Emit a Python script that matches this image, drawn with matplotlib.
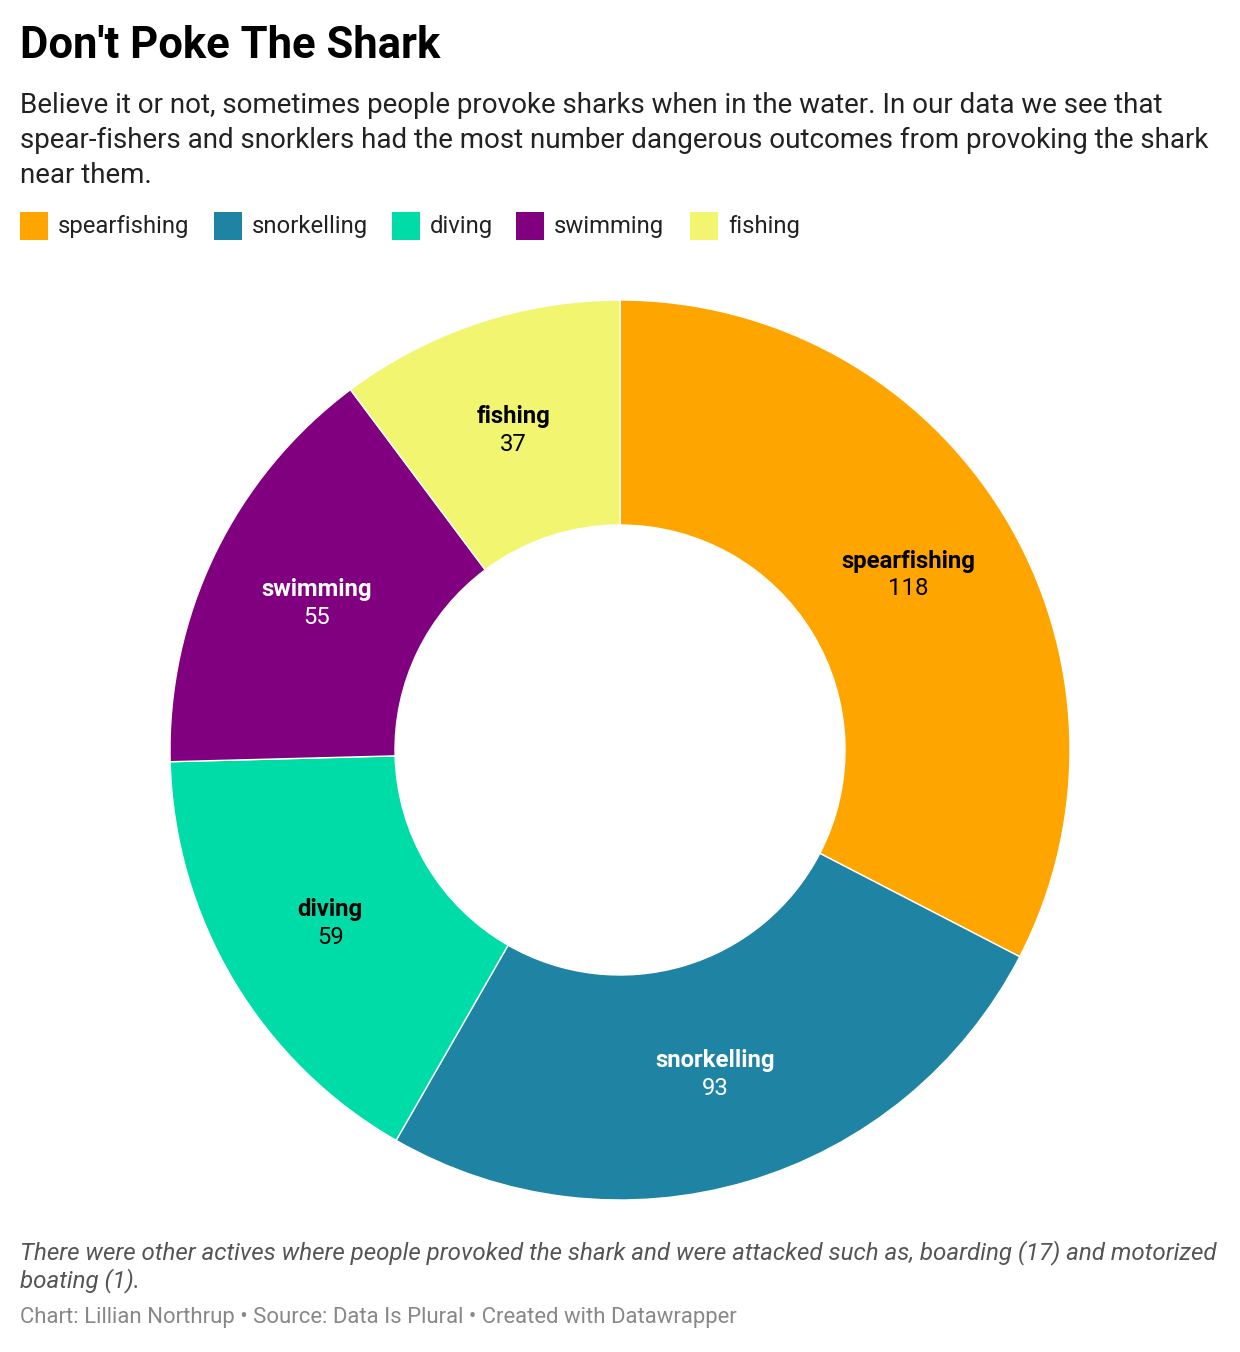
import matplotlib.pyplot as plt
from matplotlib.patches import Rectangle
import numpy as np

plt.rcParams['font.family'] = ['Roboto', 'DejaVu Sans']

categories = ['spearfishing', 'snorkelling', 'diving', 'swimming', 'fishing']
values = [118, 93, 59, 55, 37]
colors = ['#ffa500', '#1f83a3', '#00dca8', '#800080', '#f2f570']
label_colors = ['black', 'white', 'black', 'white', 'black']

W, H = 1240, 1352
fig = plt.figure(figsize=(W / 100, H / 100), dpi=100)


def fy(y):
    return 1 - y / H


def fx(x):
    return x / W


fig.text(fx(20), fy(46), "Don't Poke The Shark", fontsize=31.4, fontweight='bold',
         va='center', ha='left', color='black')
subtitle = ("Believe it or not, sometimes people provoke sharks when in the water. In our data we see that\n"
            "spear-fishers and snorklers had the most number dangerous outcomes from provoking the shark\n"
            "near them.")
fig.text(fx(20), fy(92), subtitle, fontsize=20, va='top', ha='left', color='#222222',
         linespacing=1.38)

# legend
legend_x = [20, 214, 392, 516, 690]
for x, cat, col in zip(legend_x, categories, colors):
    fig.patches.append(Rectangle((fx(x), fy(240)), 28 / W, 28 / H, transform=fig.transFigure,
                                 facecolor=col, edgecolor='none'))
    fig.text(fx(x + 38), fy(226), cat, fontsize=17.2, va='center', ha='left', color='#222222')

# donut
R = 450
cx, cy = 620, 750
ax = fig.add_axes([fx(cx - R), fy(cy + R), 2 * R / W, 2 * R / H])
wedges, _ = ax.pie(values, colors=colors, startangle=90, counterclock=False, radius=1,
                   wedgeprops=dict(width=0.5, edgecolor='white', linewidth=1))
ax.set_xlim(-1, 1)
ax.set_ylim(-1, 1)
ax.set_aspect('equal')
ax.axis('off')

total = sum(values)
cum = 0
for cat, v, lc in zip(categories, values, label_colors):
    mid = (cum + v / 2) / total * 2 * np.pi
    cum += v
    r = 0.75
    x = r * np.sin(mid)
    y = r * np.cos(mid)
    ax.text(x, y + 0.03, cat, ha='center', va='center', fontsize=17.2, fontweight='bold', color=lc)
    ax.text(x, y - 0.032, str(v), ha='center', va='center', fontsize=17.2, color=lc)

fig.text(fx(20), fy(1240),
         "There were other actives where people provoked the shark and were attacked such as, boarding (17) and motorized\n"
         "boating (1).",
         fontsize=17.4, style='italic', va='top', ha='left', color='#555555', linespacing=1.15)
fig.text(fx(20), fy(1318), "Chart: Lillian Northrup \u2022 Source: Data Is Plural \u2022 Created with Datawrapper",
         fontsize=15.9, va='center', ha='left', color='#888888')

fig.savefig('out.png', dpi=100, facecolor='white')
